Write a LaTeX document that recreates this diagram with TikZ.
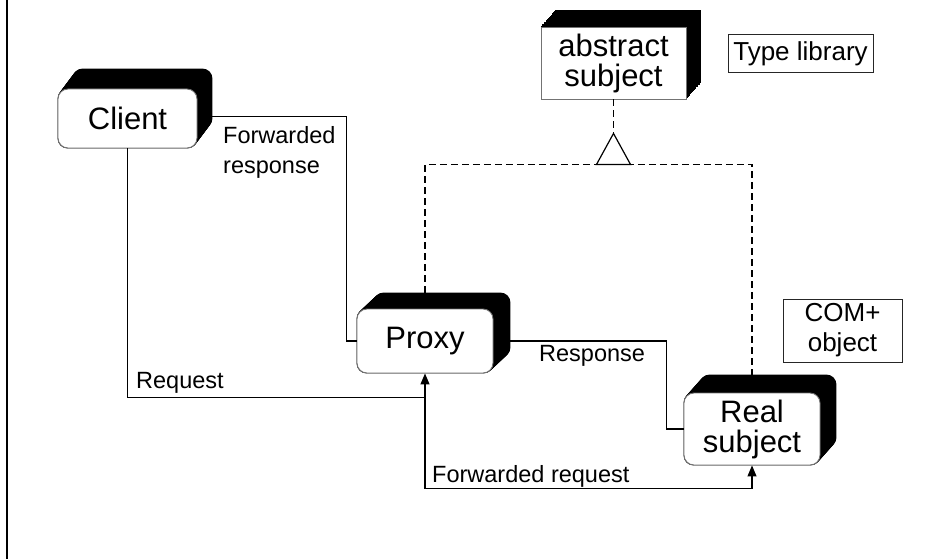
\documentclass[tikz,border=0pt]{standalone}
\usepackage{fontspec}
\setmainfont{Liberation Sans}
\usetikzlibrary{arrows.meta,backgrounds}
\newcommand\extrude[4]{%
  \foreach \k in {0,...,24}{%
    \fill[black,#4] ([shift={({\k*#2/24},{-\k*#3/24})}]#1.south west) rectangle ([shift={({\k*#2/24},{-\k*#3/24})}]#1.north east);
  }}
\begin{document}
\begin{tikzpicture}[x=1pt,y=-1pt,
  box/.style={draw=black!55, line width=0.9pt, fill=white, rounded corners=10pt, inner sep=0pt, align=center, font=\fontsize{31}{30}\selectfont},
  absbox/.style={box, sharp corners},
  note/.style={draw=black!85, line width=1pt, inner sep=0pt, align=center, font=\fontsize{26}{30}\selectfont},
  lbl/.style={inner sep=0pt, align=left, font=\fontsize{23.5}{30}\selectfont},
  conn/.style={line width=1.2pt, black},
  tip/.style={-{Triangle[length=11pt,width=9pt]}},
  gen/.style={conn, dash pattern=on 7pt off 4pt}]
\useasboundingbox (0,0) rectangle (952,559);
\draw[line width=2.5pt] (7,0) -- (7,559);

\node[box, minimum width=139pt, minimum height=59pt] (client) at (127.5,118.5) {Client};
\node[box, minimum width=136pt, minimum height=64pt] (proxy) at (425,341) {Proxy};
\node[box, minimum width=136pt, minimum height=72pt] (real) at (752,429) {Real\\subject};
\node[absbox, minimum width=145pt, minimum height=72pt] (abstract) at (613.5,63) {abstract\\subject};
\node[note, minimum width=145pt, minimum height=38pt] (typelib) at (800.5,54) {Type library};
\node[note, minimum width=119pt, minimum height=63pt] (com) at (842.5,330.5) {COM+\\object};

\begin{scope}[on background layer]
\extrude{client}{15}{20}{rounded corners=10pt}
\extrude{proxy}{17}{16}{rounded corners=10pt}
\extrude{real}{16}{18}{rounded corners=10pt}
\extrude{abstract}{15}{17}{sharp corners}
\end{scope}

\coordinate (junc) at ([yshift=-24pt]proxy.south);
\draw[conn,tip] (client.south) |- (junc) -- (proxy.south);
\draw[conn,tip] (junc) -- ([yshift=-115pt]proxy.south) -| (real.south);
\draw[conn] ([xshift=15pt,yshift=2pt]client.east) -| ([xshift=-10pt]proxy.west) -- (proxy.west);
\draw[conn] ([xshift=17pt]proxy.east) -| ([xshift=-17pt]real.west) -- (real.west);

\coordinate (base) at ([yshift=-65pt]abstract.south);
\draw[gen] ([yshift=16pt]proxy.north) |- (base) -| ([yshift=18pt]real.north);
\draw[gen] (abstract.south) -- ([yshift=-34pt]abstract.south);
\draw[conn, fill=white] ([xshift=-17pt]base) -- ([yshift=31pt]base) -- ([xshift=17pt]base) -- cycle;

\node[lbl, anchor=base west] (lreq) at (136,388) {Request};
\node[lbl, anchor=base west] (lresp) at (539,361) {Response};
\node[lbl, anchor=base west] (lfreq) at (432,482) {Forwarded request};
\node[lbl, anchor=north west] (lfresp) at (223,126) {Forwarded\\response};
\end{tikzpicture}
\end{document}
